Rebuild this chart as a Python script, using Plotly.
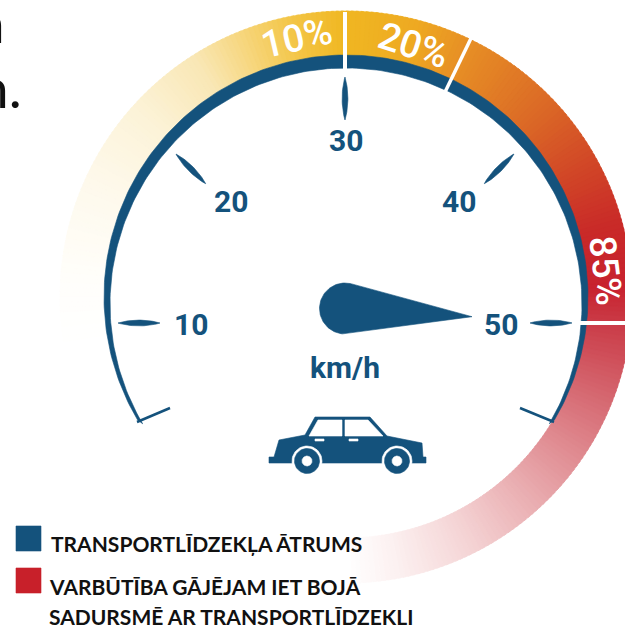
import math
import plotly.graph_objects as go

# ---- data ----
speeds = [10, 20, 30, 40, 50]
speed_labels = ["10", "20", "30", "40", "50"]
risk_labels = ["10%", "20%", "85%"]
unit_label = "km/h"
legend_labels = ["TRANSPORTLĪDZEKĻA ĀTRUMS", "VARBŪTĪBA GĀJĒJAM IET BOJĀ", "SADURSMĒ AR TRANSPORTLĪDZEKLI"]
needle_speed = 50
ramp_angles = [-100, -85, -66, -48, -32, -19, -10, 0, 15, 26, 45, 60, 75, 88, 96, 110, 125, 140, 155, 170, 180]
ramp_colors = ["#ffffff", "#fffefa", "#fef9ec", "#fcf3d8", "#f9e7b5", "#f6d270", "#f3c443", "#f0b722", "#eea922", "#e78f25",
               "#dc6c26", "#d24a27", "#c92a28", "#c8222f", "#ca3b47", "#d4636c", "#e08c92", "#ebb3b6", "#f5d6d7",
               "#fcf1f1", "#ffffff"]

BLUE = "#14527c"
RED = "#c8202a"
CX, CY, R_OUT = 346, 297, 286      # ring
R_BLUE = 242
CX2, CY2, R_IN = 346, 304, 235     # inner edge of the blue band
GX, GY = 345, 323                  # dial hub


def hex2rgb(h):
    return tuple(int(h[i:i + 2], 16) for i in (1, 3, 5))


def ramp(a):
    for i in range(len(ramp_angles) - 1):
        a0, a1 = ramp_angles[i], ramp_angles[i + 1]
        if a0 <= a <= a1:
            t = (a - a0) / (a1 - a0)
            c0, c1 = hex2rgb(ramp_colors[i]), hex2rgb(ramp_colors[i + 1])
            return "rgb(%d,%d,%d)" % tuple(round(p + (q - p) * t) for p, q in zip(c0, c1))
    return "#ffffff"


def pol(cx, cy, r, a):
    return cx + r * math.sin(math.radians(a)), cy - r * math.cos(math.radians(a))


def speed_angle(s):
    return (s - 30) * 4.5


fig = go.Figure()


def poly(xs, ys, color):
    fig.add_trace(go.Scatter(x=list(xs) + [xs[0]], y=list(ys) + [ys[0]], mode="lines", fill="toself",
                             fillcolor=color, line=dict(color=color, width=0.6), hoverinfo="skip",
                             showlegend=False))


def seg(x0, y0, x1, y1, color, width):
    fig.add_trace(go.Scatter(x=[x0, x1], y=[y0, y1], mode="lines", line=dict(color=color, width=width),
                             hoverinfo="skip", showlegend=False))


def circle(cx, cy, r, color):
    pts = [pol(cx, cy, r, a) for a in range(0, 360, 6)]
    poly([p[0] for p in pts], [p[1] for p in pts], color)


# gradient ring
a = -100
while a < 180:
    pts = [pol(CX, CY, R_OUT, a), pol(CX, CY, R_OUT, a + 1.5), pol(CX, CY, R_BLUE - 1, a + 1.5), pol(CX, CY, R_BLUE - 1, a)]
    poly([p[0] for p in pts], [p[1] for p in pts], ramp(a + 0.75))
    a += 1

# blue band
angs = [-120.5 + i * 1.0 for i in range(242)]
outer = [pol(CX, CY, R_BLUE, q) for q in angs]
inner = [pol(CX2, CY2, R_IN + 1, q) for q in reversed(angs)]
poly([p[0] for p in outer + inner], [p[1] for p in outer + inner], BLUE)
seg(137, 422, 170, 408, BLUE, 2.5)
seg(554, 422, 520, 408, BLUE, 2.5)

# dividers
seg(345, 12, 345, 69, "#ffffff", 4)
p0, p1 = pol(CX, CY, R_OUT + 1, 25.8), pol(CX, CY, 224, 25.8)
seg(p0[0], p0[1], p1[0], p1[1], "#ffffff", 3.5)
seg(579, 323, 626, 323, "#ffffff", 4)

# dial ticks (spindles)
tick_r = {10: (185, 227), 20: (197, 239), 30: (203, 246), 40: (197, 239), 50: (185, 227)}
for s in speeds:
    q = speed_angle(s)
    r0, r1 = tick_r[s]
    n = 24
    left, right = [], []
    for i in range(n + 1):
        t = i / n
        r = r0 + (r1 - r0) * t
        w = 2.9 * math.sin(math.pi * t) ** 0.8
        bx, by = pol(GX, GY, r, q)
        nx, ny = math.cos(math.radians(q)), math.sin(math.radians(q))
        left.append((bx + nx * w, by + ny * w))
        right.append((bx - nx * w, by - ny * w))
    pts = left + right[::-1]
    poly([p[0] for p in pts], [p[1] for p in pts], BLUE)

# needle
HX, HY, HR = 345, 308.5, 25.5
TX, TY = 472, 316.7
d = math.hypot(TX - HX, TY - HY)
base = math.atan2(TY - HY, TX - HX)
off = math.acos(HR / d)
pts = [(TX, TY)]
steps = 60
for i in range(steps + 1):
    ang = base + off + (2 * math.pi - 2 * off) * i / steps
    pts.append((HX + HR * math.cos(ang), HY + HR * math.sin(ang)))
poly([p[0] for p in pts], [p[1] for p in pts], BLUE)

# car pictogram
car_x = [269, 269, 274, 279, 305, 315, 370, 387, 422, 423, 426, 426]
car_y = [463, 457, 457, 440, 435, 417, 417, 436, 443, 457, 457, 463]
poly(car_x, car_y, BLUE)
poly([318, 342, 342, 309], [420, 420, 436, 436], "#ffffff")
poly([345, 368, 383, 345], [420, 420, 436, 436], "#ffffff")
poly([315, 324, 324, 315], [439, 439, 441, 441], "#ffffff")
poly([349, 358, 358, 349], [439, 439, 441, 441], "#ffffff")
for wx in (307, 397):
    circle(wx, 461, 15, "#ffffff")
    circle(wx, 461, 12.5, BLUE)
    circle(wx, 461, 5, "#ffffff")

# legend swatches
poly([16, 41, 41, 16], [526, 526, 551, 551], BLUE)
poly([16, 41, 41, 16], [568, 568, 593, 593], RED)

ann = []


def text(x, y, s, size, color, family="Roboto", angle=0, anchor="center", weight=700):
    ann.append(dict(x=x, y=y, xref="x", yref="y", text=s, showarrow=False,
                    font=dict(size=size, color=color, family=family, weight=weight), textangle=angle, xanchor=anchor,
                    yanchor="middle", align="left"))


label_xy = [(191, 324), (231, 201), (346, 140), (459, 201), (501, 324)]
for lab, (x, y) in zip(speed_labels, label_xy):
    text(x, y, lab, 30, BLUE)
text(345, 367, unit_label, 30, BLUE)
text(296, 38, risk_labels[0], 38, "#ffffff", angle=-13, weight=500)
text(413, 45, risk_labels[1], 38, "#ffffff", angle=18, weight=500)
text(606, 270, risk_labels[2], 37, "#ffffff", angle=83, weight=500)
text(49, 543, legend_labels[0], 21, "#111111", family="Lato", anchor="left")
text(47, 586, legend_labels[1], 21, "#111111", family="Lato", anchor="left")
text(47, 616, legend_labels[2], 21, "#111111", family="Lato", anchor="left")
text(7, 22, "n", 55, "#111111", family="Lato", anchor="right", weight=400)
text(24, 87, "n.", 55, "#111111", family="Lato", anchor="right", weight=400)

fig.update_layout(
    width=625, height=625, margin=dict(l=0, r=0, t=0, b=0), autosize=False,
    paper_bgcolor="#ffffff", plot_bgcolor="#ffffff", showlegend=False,
    xaxis=dict(range=[0, 625], visible=False, fixedrange=True),
    yaxis=dict(range=[625, 0], visible=False, fixedrange=True),
    annotations=ann,
)
fig.write_html("out.html", config=dict(displayModeBar=False),
               post_script="document.body.style.margin='0';")
